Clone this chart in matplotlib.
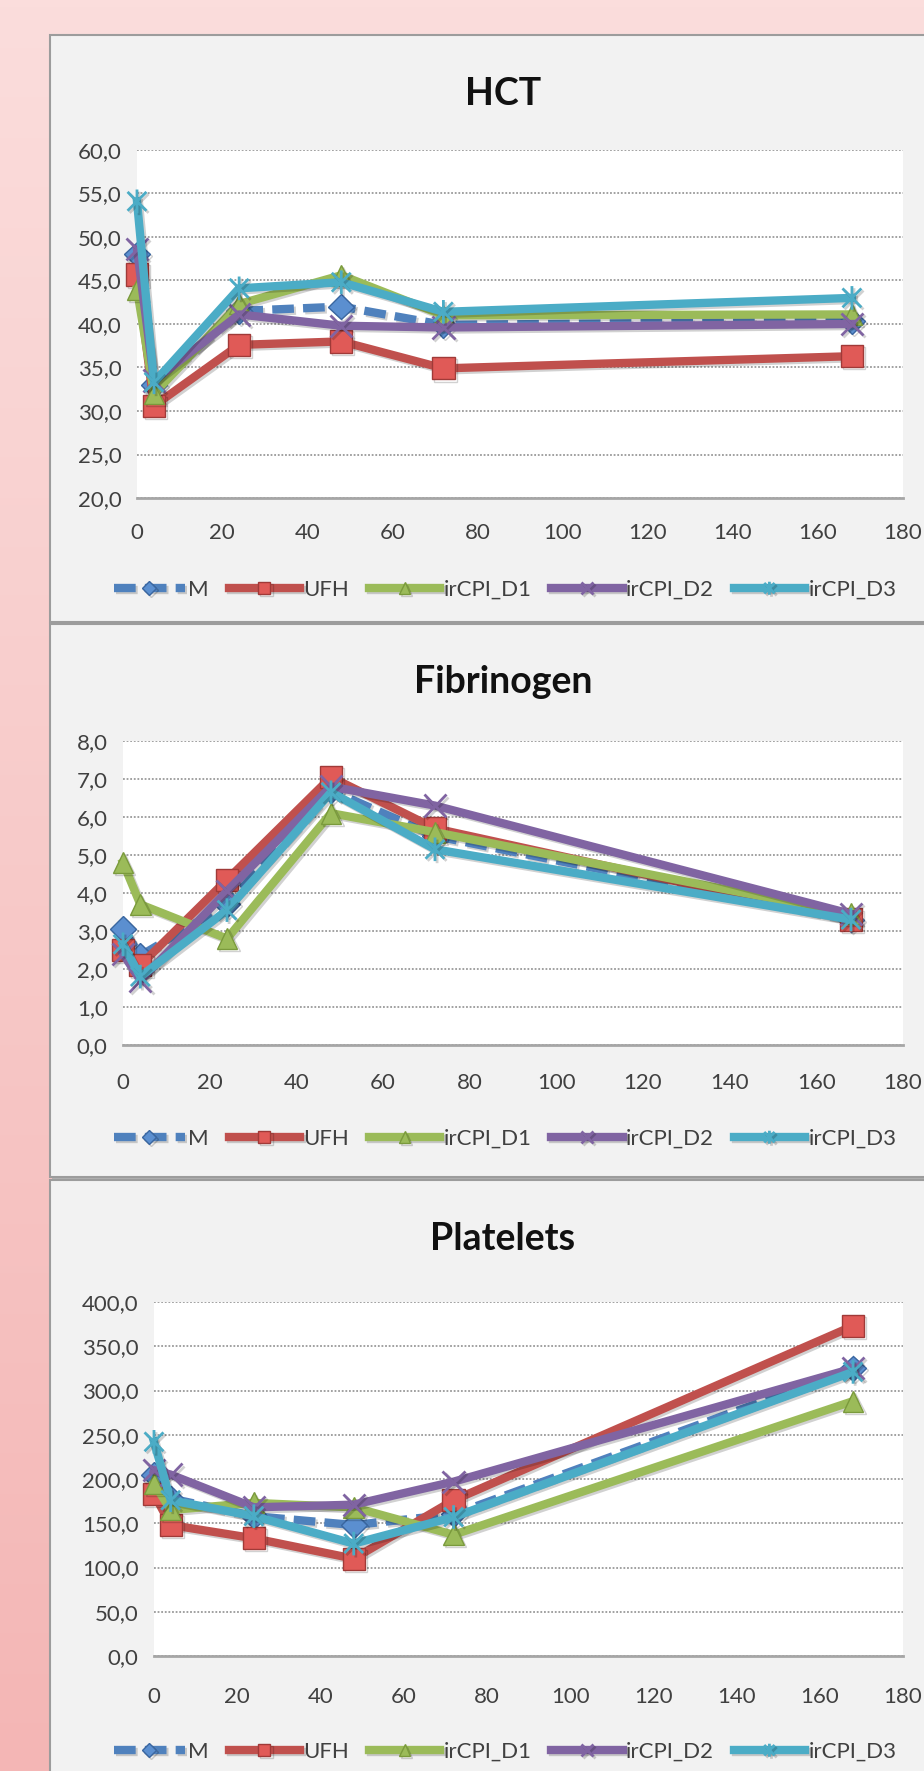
import matplotlib

matplotlib.use("Agg")
import matplotlib.pyplot as plt
import matplotlib.patheffects as pe
import numpy as np
from matplotlib.patches import Rectangle
from matplotlib.path import Path
from matplotlib.ticker import FuncFormatter, MultipleLocator

plt.rcParams["font.family"] = ["Lato", "DejaVu Sans"]

W, H = 924, 1771

hours = [0, 4, 24, 48, 72, 168]
series_names = ["M", "UFH", "irCPI_D1", "irCPI_D2", "irCPI_D3"]

hct_m = [48.0, 33.0, 41.5, 42.0, 39.9, 40.3]
hct_ufh = [45.7, 30.6, 37.6, 38.0, 34.9, 36.3]
hct_d1 = [44.0, 32.0, 42.3, 45.6, 41.0, 41.1]
hct_d2 = [48.6, 33.5, 41.1, 39.8, 39.6, 40.0]
hct_d3 = [54.1, 33.3, 44.1, 44.8, 41.4, 43.0]

fib_m = [3.05, 2.35, 3.7, 6.7, 5.5, 3.3]
fib_ufh = [2.5, 2.1, 4.35, 7.05, 5.7, 3.3]
fib_d1 = [4.8, 3.7, 2.8, 6.1, 5.6, 3.45]
fib_d2 = [2.4, 1.7, 4.05, 6.8, 6.3, 3.45]
fib_d3 = [2.65, 1.8, 3.55, 6.65, 5.15, 3.3]

plt_m = [205, 178, 158, 148, 160, 325]
plt_ufh = [183, 148, 133, 110, 176, 373]
plt_d1 = [195, 165, 173, 168, 137, 288]
plt_d2 = [210, 205, 168, 171, 197, 325]
plt_d3 = [242, 176, 158, 127, 157, 321]

# office 2007 palette
colors = ["#4f81bd", "#c0504d", "#9bbb59", "#8064a2", "#4bacc6"]
faces = ["#5b8fd0", "#e05a57", "#9bbb59", "#8064a2", "#4bacc6"]
edges = ["#3a66a0", "#a03a38", "#7a9a3c", "#66508a", "#3a98b0"]

# asterisk-like marker: an X with a vertical bar through it
star = Path(
    [(-1, -1), (1, 1), (-1, 1), (1, -1), (0, -1.25), (0, 1.25)],
    [Path.MOVETO, Path.LINETO] * 3,
)
markers = ["D", "s", "^", "x", star]
msizes = [13, 16, 15, 16, 17]

panels = [
    dict(title="HCT", data=[hct_m, hct_ufh, hct_d1, hct_d2, hct_d3],
         ylim=(20, 60), step=5, box=(50, 35, 587),
         ax=(137, 150, 903, 498), title_y=94, legend_y=590, xpad=18),
    dict(title="Fibrinogen", data=[fib_m, fib_ufh, fib_d1, fib_d2, fib_d3],
         ylim=(0, 8), step=1, box=(50, 624, 553),
         ax=(123, 741, 903, 1045), title_y=682, legend_y=1139, xpad=20.5),
    dict(title="Platelets", data=[plt_m, plt_ufh, plt_d1, plt_d2, plt_d3],
         ylim=(0, 400), step=50, box=(50, 1180, 620),
         ax=(154, 1302, 903, 1656), title_y=1239, legend_y=1752, xpad=22.5),
]

fig = plt.figure(figsize=(W / 100, H / 100), dpi=100)

# pink page background with panel frames, drawn in pixel coordinates
bg = fig.add_axes([0, 0, 1, 1])
bg.set_xlim(0, W)
bg.set_ylim(H, 0)
bg.axis("off")
grad = np.linspace(0, 1, 256).reshape(-1, 1)
top = np.array([0xfb, 0xdd, 0xdc]) / 255
bottom = np.array([0xf4, 0xb6, 0xb5]) / 255
img = top + grad[..., None] * (bottom - top)
bg.imshow(img, extent=(0, W, H, 0), aspect="auto", zorder=0)

for p in panels:
    x, y, h = p["box"]
    bg.add_patch(Rectangle((x + 2, y + 2), 1000, h, facecolor="#b0b0b0",
                           edgecolor="none", zorder=1))
    bg.add_patch(Rectangle((x, y), 1000, h, facecolor="#f2f2f2",
                           edgecolor="#9c9c9c", linewidth=1.5, zorder=2))

fmt = FuncFormatter(lambda v, _: f"{v:.1f}".replace(".", ","))
shadow = [pe.SimpleLineShadow(offset=(1.5, -1.5), shadow_color="k", alpha=0.18),
          pe.Normal()]

for p in panels:
    x0, y0, x1, y1 = p["ax"]
    ax = fig.add_axes([x0 / W, 1 - y1 / H, (x1 - x0) / W, (y1 - y0) / H])
    ax.set_facecolor("white")

    for i, vals in enumerate(p["data"]):
        open_marker = markers[i] == "x" or markers[i] is star
        ax.plot(hours, vals, color=colors[i], linewidth=6,
                linestyle=(0, (2.6, 1.1)) if i == 0 else "-",
                marker=markers[i], markersize=msizes[i],
                markerfacecolor="none" if open_marker else faces[i],
                markeredgecolor=colors[i] if open_marker else edges[i],
                markeredgewidth=2 if open_marker else 1,
                label=series_names[i], zorder=3 + i,
                solid_joinstyle="round", path_effects=shadow, clip_on=False)

    ax.set_xlim(0, 180)
    ax.set_ylim(*p["ylim"])
    ax.xaxis.set_major_locator(MultipleLocator(20))
    ax.yaxis.set_major_locator(MultipleLocator(p["step"]))
    ax.yaxis.set_major_formatter(fmt)
    ax.grid(True, axis="y", color="#9a9a9a", linestyle=(0, (1, 1)),
            linewidth=1.3)
    ax.set_axisbelow(True)
    for side in ("top", "right", "left"):
        ax.spines[side].set_visible(False)
    ax.spines["bottom"].set_color("#a6a6a6")
    ax.spines["bottom"].set_linewidth(2)
    ax.tick_params(length=0, labelsize=16, colors="#404040")
    ax.tick_params(axis="y", pad=11)
    ax.tick_params(axis="x", pad=p["xpad"])

    fig.text(503 / W, 1 - p["title_y"] / H, p["title"], ha="center",
             va="center", fontsize=27, fontweight="bold", color="#111111")

    ax.legend(loc="center", bbox_to_anchor=(505 / W, 1 - p["legend_y"] / H),
              bbox_transform=fig.transFigure, ncol=5, frameon=False,
              fontsize=16, handlelength=3.2, handletextpad=0.15,
              columnspacing=0.9, markerscale=0.55, numpoints=1,
              labelcolor="#404040")

fig.savefig("out.png", dpi=100)
